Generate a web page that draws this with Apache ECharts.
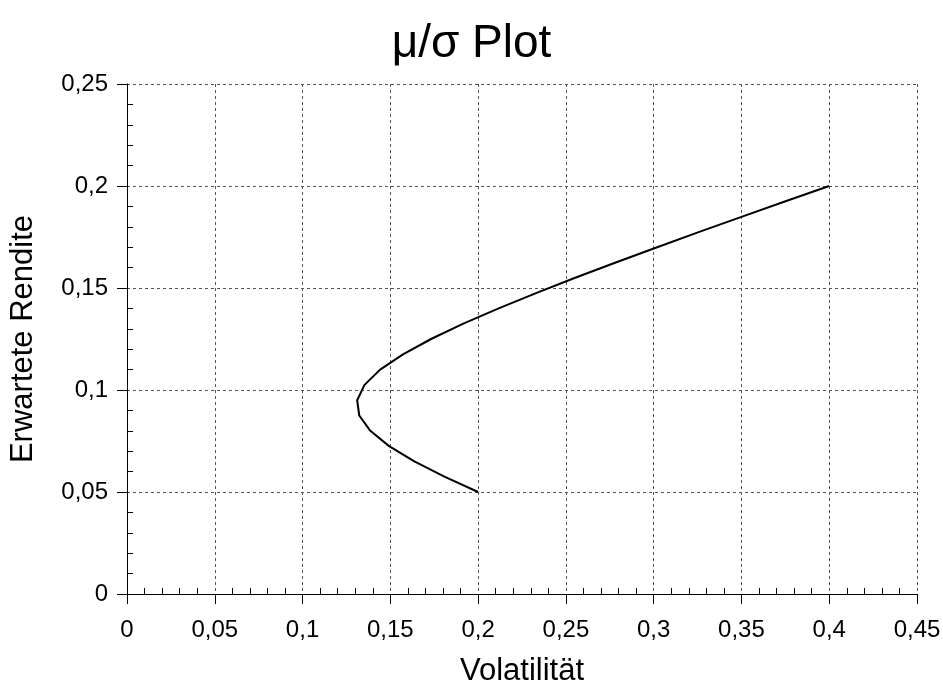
<!DOCTYPE html>
<html>
<head>
<meta charset="utf-8">
<script src="https://cdn.jsdelivr.net/npm/echarts@6/dist/echarts.min.js"></script>
<style>html,body{margin:0;padding:0;background:#fff}#c{width:943px;height:686px}</style>
</head>
<body>
<div id="c"></div>
<script>
// Volatility (x) and expected return (y) of the plotted curve
const volatility = [0.2, 0.1808, 0.1637, 0.1493, 0.1386, 0.1323, 0.1311, 0.1353, 0.1442, 0.1572, 0.1732,
  0.1916, 0.2117, 0.2330, 0.2553, 0.2784, 0.3020, 0.3260, 0.3504, 0.3751, 0.4];
const expectedReturn = [0.05, 0.0575, 0.065, 0.0725, 0.08, 0.0875, 0.095, 0.1025, 0.11, 0.1175, 0.125,
  0.1325, 0.14, 0.1475, 0.155, 0.1625, 0.17, 0.1775, 0.185, 0.1925, 0.2];
const titleText = 'μ/σ Plot';
const xName = 'Volatilität';
const yName = 'Erwartete Rendite';

const FONT = '"Liberation Sans", Arial, sans-serif';
const fmt = v => parseFloat(Number(v).toFixed(4)).toString().replace('.', ',');
const data = volatility.map((x, i) => [x, expectedReturn[i]]);

const gridLine = { show: true, lineStyle: { color: '#555', type: [3, 3], width: 1 } };

const chart = echarts.init(document.getElementById('c'), null, { renderer: 'canvas' });
chart.setOption({
  animation: false,
  backgroundColor: '#fff',
  title: {
    text: titleText, left: 'center', top: 16,
    textStyle: { fontFamily: FONT, fontSize: 46, fontWeight: 'normal', color: '#000' }
  },
  grid: { left: 127, right: 26, top: 84, bottom: 92, containLabel: false, outerBoundsMode: 'none' },
  xAxis: [{
    type: 'value', min: 0, max: 0.45, interval: 0.05, position: 'bottom',
    name: xName, nameLocation: 'middle', nameGap: 62,
    nameTextStyle: { fontFamily: FONT, fontSize: 31, color: '#000' },
    axisLine: { show: true, onZero: false, lineStyle: { color: '#000', width: 1 } },
    axisTick: { show: true, inside: false, length: 10, lineStyle: { color: '#000' } },
    axisLabel: { fontFamily: FONT, fontSize: 24, color: '#000', margin: 24, formatter: fmt },
    splitLine: gridLine
  }, {
    type: 'value', min: 0, max: 0.45, interval: 0.05, position: 'bottom',
    axisLine: { show: false, onZero: false },
    axisTick: { show: false, inside: true },
    axisLabel: { show: false },
    splitLine: { show: false },
    minorTick: { show: true, splitNumber: 5, length: 6, lineStyle: { color: '#000' } }
  }],
  yAxis: [{
    type: 'value', min: 0, max: 0.25, interval: 0.05, position: 'left',
    name: yName, nameLocation: 'middle', nameGap: 88, nameRotate: 90,
    nameTextStyle: { fontFamily: FONT, fontSize: 31, color: '#000' },
    axisLine: { show: true, onZero: false, lineStyle: { color: '#000', width: 1 } },
    axisTick: { show: true, inside: false, length: 10, lineStyle: { color: '#000' } },
    axisLabel: { fontFamily: FONT, fontSize: 24, color: '#000', margin: 19, formatter: fmt },
    splitLine: gridLine
  }, {
    type: 'value', min: 0, max: 0.25, interval: 0.05, position: 'left',
    axisLine: { show: false, onZero: false },
    axisTick: { show: false, inside: true },
    axisLabel: { show: false },
    splitLine: { show: false },
    minorTick: { show: true, splitNumber: 5, length: 6, lineStyle: { color: '#000' } }
  }],
  series: [{
    type: 'line', data: data, xAxisIndex: 0, yAxisIndex: 0,
    showSymbol: false, symbol: 'none', smooth: false,
    lineStyle: { color: '#000', width: 2 }
  }]
});
</script>
</body>
</html>
